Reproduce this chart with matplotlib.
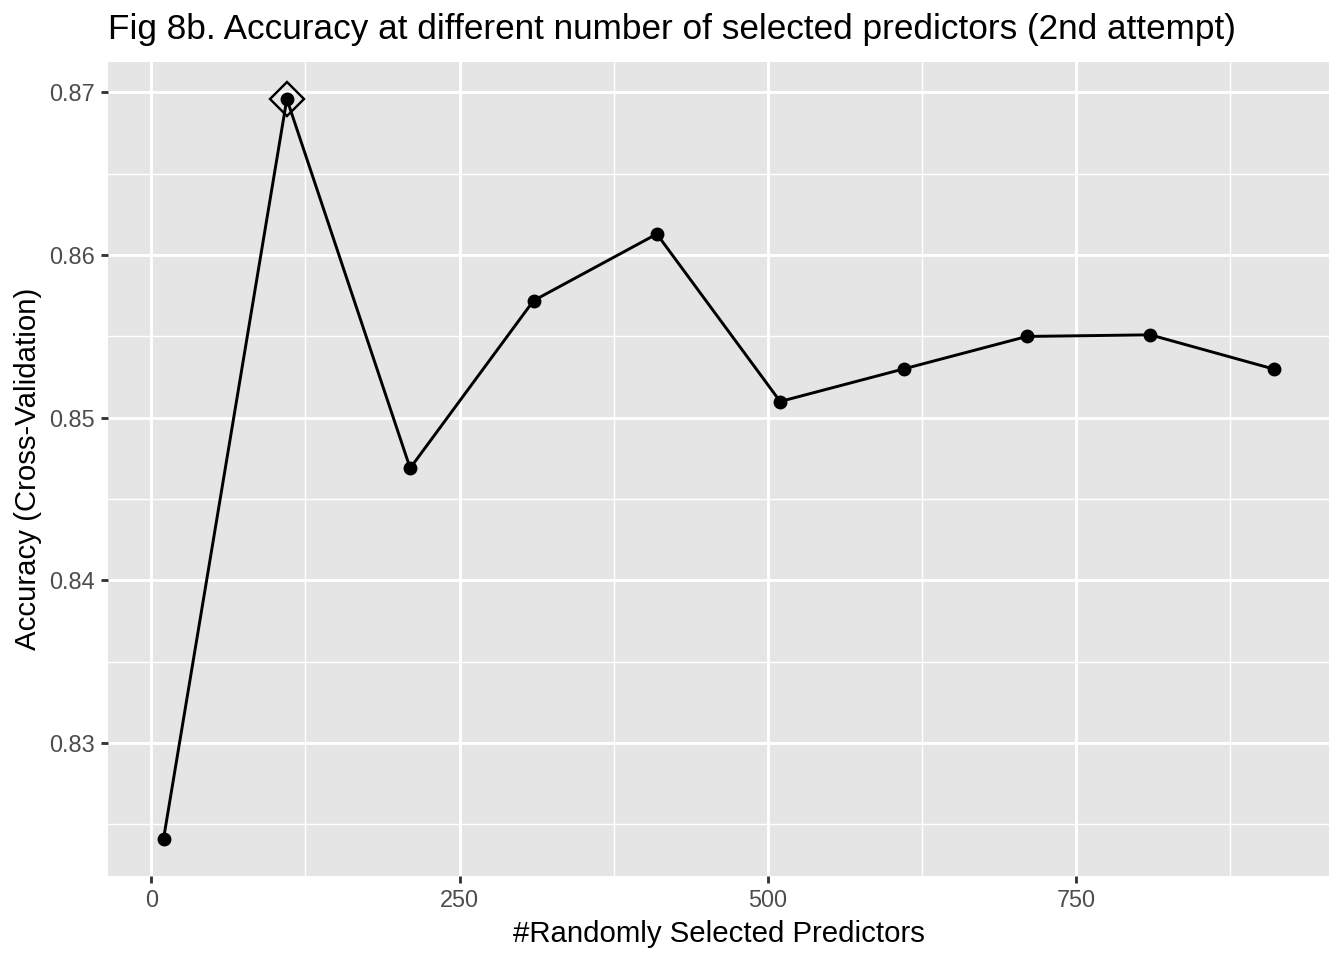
import matplotlib.pyplot as plt

predictors = [10, 110, 210, 310, 410, 510, 610, 710, 810, 910]
accuracy = [0.8241, 0.8696, 0.8469, 0.8572, 0.8613, 0.8510, 0.8530, 0.8550, 0.8551, 0.8530]
best_idx = 1

x_major = [0, 250, 500, 750]
x_minor = [125, 375, 625, 875]
y_major = [0.83, 0.84, 0.85, 0.86, 0.87]
y_minor = [0.825, 0.835, 0.845, 0.855, 0.865]

plt.rcParams["font.family"] = ["Liberation Sans", "DejaVu Sans"]

fig = plt.figure(figsize=(7, 5), dpi=192)
ax = fig.add_axes([108 / 1344, 84 / 960, (1329 - 108) / 1344, (876 - 62) / 960])
ax.set_facecolor("#E5E5E5")
for s in ax.spines.values():
    s.set_visible(False)

# ggplot default expansion (5%)
xr = max(predictors) - min(predictors)
yr = max(accuracy) - min(accuracy)
ax.set_xlim(min(predictors) - 0.05 * xr, max(predictors) + 0.05 * xr)
ax.set_ylim(min(accuracy) - 0.05 * yr, max(accuracy) + 0.05 * yr)

ax.set_xticks(x_major)
ax.set_xticks(x_minor, minor=True)
ax.set_yticks(y_major)
ax.set_yticks(y_minor, minor=True)
ax.set_xticklabels([str(v) for v in x_major])
ax.set_yticklabels([f"{v:.2f}" for v in y_major])
ax.grid(which="major", color="white", linewidth=1.07)
ax.grid(which="minor", color="white", linewidth=0.53)
ax.set_axisbelow(True)
ax.tick_params(which="major", length=2.75, width=1.07, color="#333333",
               labelcolor="#4D4D4D", labelsize=8.8, pad=2.2)
ax.tick_params(which="minor", length=0)

ax.plot(predictors, accuracy, color="black", linewidth=1.1, marker="o",
        markersize=4.2, zorder=3)
ax.plot(predictors[best_idx], accuracy[best_idx], marker="D", markersize=9,
        markerfacecolor="none", markeredgecolor="black", markeredgewidth=0.9,
        linestyle="none", zorder=4)

ax.set_xlabel("#Randomly Selected Predictors", fontsize=11, labelpad=2.75)
ax.set_ylabel("Accuracy (Cross-Validation)", fontsize=11, labelpad=2.75)

fig.text(108 / 1344, 1 - 39 / 960, "Fig 8b. Accuracy at different number of selected predictors (2nd attempt)",
         fontsize=13.2, ha="left", va="baseline")

fig.savefig("out.png", dpi=192)
